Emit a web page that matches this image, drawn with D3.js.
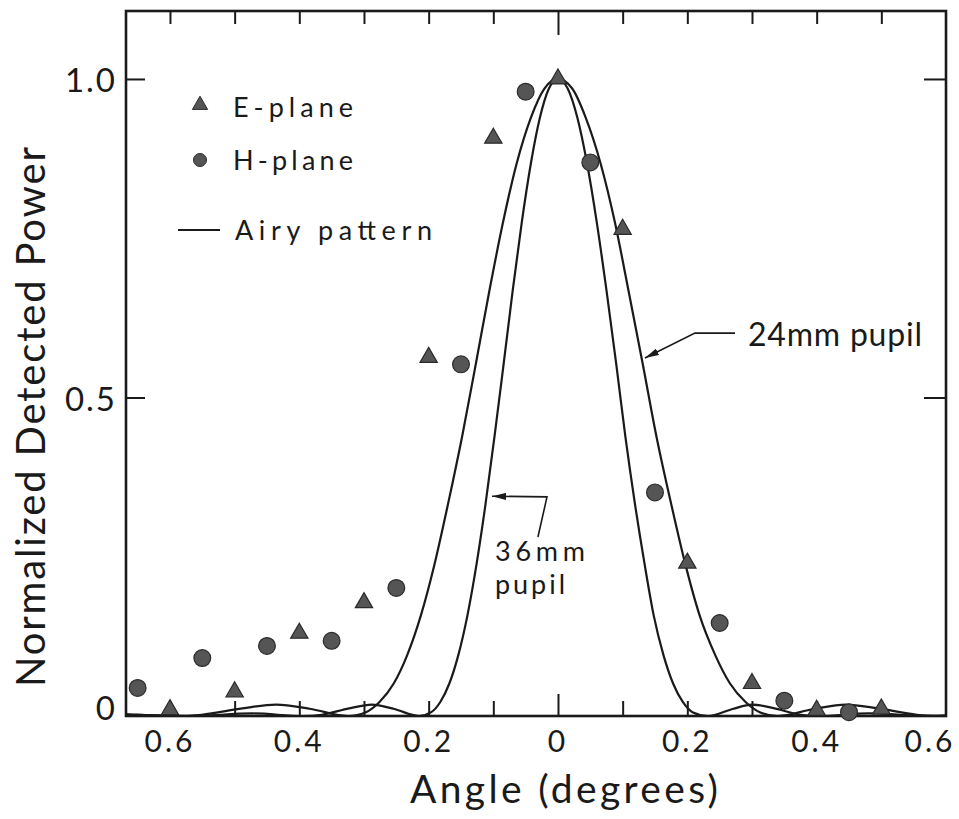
<!DOCTYPE html>
<html>
<head>
<meta charset="utf-8">
<script src="https://cdn.jsdelivr.net/npm/d3@7/dist/d3.min.js"></script>
<style>
  body { margin: 0; background: #fff; }
  text { font-family: Lato, "DejaVu Sans", sans-serif; fill: #1a1a1a; }
</style>
</head>
<body>
<div id="chart-area"></div>
<script>
//Measured beam patterns vs. Airy patterns for two pupil sizes

//E-plane points (triangles)
var eAngle = [-0.6, -0.5, -0.4, -0.3, -0.2, -0.1, 0, 0.1, 0.2, 0.3, 0.4, 0.5];
var ePower = [0.010, 0.038, 0.130, 0.178, 0.563, 0.907, 1.0, 0.764, 0.240, 0.051, 0.009, 0.011];

//H-plane points (circles)
var hAngle = [-0.65, -0.55, -0.45, -0.35, -0.25, -0.15, -0.05, 0.05, 0.15, 0.25, 0.35, 0.45];
var hPower = [0.044, 0.091, 0.110, 0.118, 0.201, 0.552, 0.980, 0.869, 0.351, 0.146, 0.024, 0.006];

//Airy pattern, 36mm pupil (narrow curve)
var narrowAngle = [-0.668, -0.652, -0.571, -0.472, -0.394, -0.365, -0.323, -0.288, -0.253, -0.215,
                   -0.196, -0.182, -0.168, -0.154, -0.140, -0.126, -0.112, -0.098, -0.084, -0.070,
                   -0.056, -0.042, -0.028, -0.014, 0,
                   0.015, 0.030, 0.045, 0.060, 0.075, 0.090, 0.104, 0.119, 0.134, 0.148,
                   0.163, 0.178, 0.193, 0.208, 0.232, 0.270, 0.300, 0.335, 0.375, 0.405,
                   0.480, 0.580, 0.600];
var narrowPower = [0.001, 0.002, 0, 0.004, 0, 0.002, 0.012, 0.018, 0.011, 0,
                   0.006, 0.022, 0.051, 0.096, 0.158, 0.238, 0.333, 0.440, 0.553, 0.668,
                   0.775, 0.867, 0.939, 0.985, 1.0,
                   0.985, 0.939, 0.867, 0.775, 0.668, 0.553, 0.440, 0.333, 0.238, 0.158,
                   0.096, 0.051, 0.022, 0.006, 0, 0.011, 0.018, 0.012, 0.002, 0,
                   0.004, 0, 0.001];

//Airy pattern, 24mm pupil (wide curve)
var wideAngle = [-0.668, -0.595, -0.551, -0.488, -0.436, -0.382, -0.325, -0.297, -0.276, -0.254,
                 -0.233, -0.212, -0.191, -0.170, -0.148, -0.127, -0.106, -0.085, -0.064, -0.042,
                 -0.021, 0,
                 0.022, 0.043, 0.066, 0.088, 0.109, 0.131, 0.152, 0.175, 0.197, 0.219,
                 0.243, 0.266, 0.290, 0.312, 0.340, 0.395, 0.445, 0.495, 0.555, 0.600];
var widePower = [0.003, 0, 0.002, 0.012, 0.018, 0.011, 0, 0.006, 0.022, 0.051,
                 0.096, 0.158, 0.238, 0.333, 0.440, 0.553, 0.668, 0.775, 0.867, 0.939,
                 0.985, 1.0,
                 0.985, 0.939, 0.867, 0.775, 0.668, 0.553, 0.440, 0.333, 0.238, 0.158,
                 0.096, 0.051, 0.022, 0.006, 0, 0.011, 0.018, 0.012, 0.002, 0];

//Ticks and labels
var xTickValues = [-0.6, -0.5, -0.4, -0.3, -0.2, -0.1, 0, 0.1, 0.2, 0.3, 0.4, 0.5];
var xLabelValues = [-0.6, -0.4, -0.2, 0, 0.2, 0.4, 0.6];
var xLabels = ["0.6", "0.4", "0.2", "0", "0.2", "0.4", "0.6"];
var yTickValues = [0.5, 1.0];
var yLabelValues = [0, 0.5, 1.0];
var yLabels = ["0", "0.5", "1.0"];

var outerWidth = 959;
var outerHeight = 819;
var frame = {left: 126, right: 946, top: 11, bottom: 716};

var svg = d3.select("#chart-area").append("svg")
            .attr("width", outerWidth)
            .attr("height", outerHeight);

//Scales
var xScale = d3.scaleLinear()
               .domain([-0.668, 0.6])
               .range([frame.left, frame.right]);
var yScale = d3.scaleLinear()
               .domain([0, 1.1067])
               .range([frame.bottom, frame.top]);

var ink = "#1a1a1a";
var markFill = "#555";

//Frame
svg.append("rect")
   .attr("x", frame.left)
   .attr("y", frame.top)
   .attr("width", frame.right - frame.left)
   .attr("height", frame.bottom - frame.top)
   .attr("fill", "none")
   .attr("stroke", ink)
   .attr("stroke-width", 2.6);

//Inward ticks, bottom and top
var bottomAxis = d3.axisBottom(xScale)
                   .tickValues(xTickValues)
                   .tickSizeInner(-15)
                   .tickSizeOuter(0)
                   .tickFormat("");
var bottomG = svg.append("g")
                 .attr("transform", "translate(0," + frame.bottom + ")")
                 .call(bottomAxis);
var topAxis = d3.axisTop(xScale)
                .tickValues(xTickValues)
                .tickSizeInner(-13)
                .tickSizeOuter(0)
                .tickFormat("");
var topG = svg.append("g")
              .attr("transform", "translate(0," + frame.top + ")")
              .call(topAxis);
var leftAxis = d3.axisLeft(yScale)
                 .tickValues(yTickValues)
                 .tickSizeInner(-19)
                 .tickSizeOuter(0)
                 .tickFormat("");
var leftG = svg.append("g")
               .attr("transform", "translate(" + frame.left + ",0)")
               .call(leftAxis);
var rightAxis = d3.axisRight(yScale)
                  .tickValues(yTickValues)
                  .tickSizeInner(-22)
                  .tickSizeOuter(0)
                  .tickFormat("");
var rightG = svg.append("g")
                .attr("transform", "translate(" + frame.right + ",0)")
                .call(rightAxis);

[bottomG, topG, leftG, rightG].forEach(function(g){
  g.select(".domain").remove();
  g.selectAll(".tick line").attr("stroke", ink).attr("stroke-width", 2);
});
//the centre ticks are longer
bottomG.selectAll(".tick line").attr("y2", function(d){ return d === 0 ? -22 : -15; });
topG.selectAll(".tick line").attr("y2", function(d){ return d === 0 ? 24 : 13; });

//Tick labels
svg.selectAll(".xlab")
   .data(xLabelValues)
   .enter().append("text")
   .attr("class", "xlab")
   .attr("x", function(d){ return xScale(d) + (d === 0.6 ? -16 : 0); })
   .attr("y", 752)
   .attr("text-anchor", "middle")
   .attr("font-size", "30px")
   .attr("letter-spacing", "3px")
   .text(function(d, i){ return xLabels[i]; });

svg.selectAll(".ylab")
   .data(yLabelValues)
   .enter().append("text")
   .attr("class", "ylab")
   .attr("x", 117)
   .attr("y", function(d){ return yScale(d) + (d === 0 ? 4 : 13.5); })
   .attr("text-anchor", "end")
   .attr("font-size", "33px")
   .attr("letter-spacing", "2px")
   .text(function(d, i){ return yLabels[i]; });

//Axis titles
svg.append("text")
   .attr("x", 410)
   .attr("y", 803)
   .attr("font-size", "39px")
   .attr("textLength", 308)
   .attr("lengthAdjust", "spacing")
   .text("Angle (degrees)");

svg.append("text")
   .attr("transform", "translate(45,687) rotate(-90)")
   .attr("x", 0)
   .attr("y", 0)
   .attr("font-size", "40px")
   .attr("textLength", 540)
   .attr("lengthAdjust", "spacing")
   .text("Normalized Detected Power");

//Airy curves
var line = d3.line()
             .x(function(d){ return xScale(d[0]); })
             .y(function(d){ return yScale(d[1]); })
             .curve(d3.curveMonotoneX);

var narrowData = narrowAngle.map(function(a, i){ return [a, narrowPower[i]]; });
var wideData = wideAngle.map(function(a, i){ return [a, widePower[i]]; });

[narrowData, wideData].forEach(function(data){
  svg.append("path")
     .datum(data)
     .attr("d", line)
     .attr("fill", "none")
     .attr("stroke", ink)
     .attr("stroke-width", 2.2);
});

//Measured points
var triangle = d3.symbol().type(d3.symbolTriangle).size(130);
var eData = eAngle.map(function(a, i){ return {angle: a, power: ePower[i]}; });
var hData = hAngle.map(function(a, i){ return {angle: a, power: hPower[i]}; });

svg.selectAll(".epoint")
   .data(eData)
   .enter().append("path")
   .attr("class", "epoint")
   .attr("d", triangle)
   .attr("transform", function(d){ return "translate(" + xScale(d.angle) + "," + yScale(d.power) + ")"; })
   .attr("fill", markFill)
   .attr("stroke", "#2a2a2a")
   .attr("stroke-width", 1.2);

svg.selectAll(".hpoint")
   .data(hData)
   .enter().append("circle")
   .attr("class", "hpoint")
   .attr("cx", function(d){ return xScale(d.angle); })
   .attr("cy", function(d){ return yScale(d.power); })
   .attr("r", 8.4)
   .attr("fill", markFill)
   .attr("stroke", "#2a2a2a")
   .attr("stroke-width", 1.2);

//Legend
var legendG = svg.append("g");
legendG.append("path")
       .attr("d", d3.symbol().type(d3.symbolTriangle).size(100))
       .attr("transform", "translate(200,105)")
       .attr("fill", markFill)
       .attr("stroke", "#2a2a2a");
legendG.append("text")
       .attr("x", 233).attr("y", 117)
       .attr("font-size", "27px")
       .attr("textLength", 120).attr("lengthAdjust", "spacing")
       .text("E-plane");
legendG.append("circle")
       .attr("cx", 200).attr("cy", 160).attr("r", 6.5)
       .attr("fill", markFill)
       .attr("stroke", "#2a2a2a");
legendG.append("text")
       .attr("x", 233).attr("y", 170)
       .attr("font-size", "27px")
       .attr("textLength", 120).attr("lengthAdjust", "spacing")
       .text("H-plane");
legendG.append("line")
       .attr("x1", 178).attr("x2", 220)
       .attr("y1", 230).attr("y2", 230)
       .attr("stroke", ink).attr("stroke-width", 2);
legendG.append("text")
       .attr("x", 235).attr("y", 240)
       .attr("font-size", "27px")
       .attr("textLength", 197).attr("lengthAdjust", "spacing")
       .text("Airy pattern");

//Annotations with arrows (positions in data units)
svg.append("defs").append("marker")
   .attr("id", "arrow")
   .attr("viewBox", "0 0 12 6")
   .attr("refX", 12).attr("refY", 3)
   .attr("markerWidth", 14).attr("markerHeight", 7)
   .attr("markerUnits", "userSpaceOnUse")
   .attr("orient", "auto")
   .append("path")
   .attr("d", "M0,0 L12,3 L0,6 Z")
   .attr("fill", ink);

var arrowLine = d3.line()
                  .x(function(d){ return xScale(d[0]); })
                  .y(function(d){ return yScale(d[1]); });

svg.append("path")
   .attr("d", arrowLine([[0.2737, 0.601], [0.2118, 0.601], [0.1345, 0.562]]))
   .attr("fill", "none")
   .attr("stroke", ink)
   .attr("stroke-width", 1.6)
   .attr("marker-end", "url(#arrow)");
svg.append("text")
   .attr("x", xScale(0.2938))
   .attr("y", yScale(0.581))
   .attr("font-size", "32px")
   .attr("textLength", 174).attr("lengthAdjust", "spacing")
   .text("24mm pupil");

svg.append("path")
   .attr("d", arrowLine([[-0.031, 0.281], [-0.017, 0.344], [-0.102, 0.345]]))
   .attr("fill", "none")
   .attr("stroke", ink)
   .attr("stroke-width", 1.6)
   .attr("marker-end", "url(#arrow)");
svg.append("text")
   .attr("x", xScale(-0.0974))
   .attr("y", yScale(0.243))
   .attr("font-size", "27px")
   .attr("textLength", 90).attr("lengthAdjust", "spacing")
   .text("36mm");
svg.append("text")
   .attr("x", xScale(-0.0974))
   .attr("y", yScale(0.191))
   .attr("font-size", "27px")
   .attr("textLength", 70).attr("lengthAdjust", "spacing")
   .text("pupil");
</script>
</body>
</html>
